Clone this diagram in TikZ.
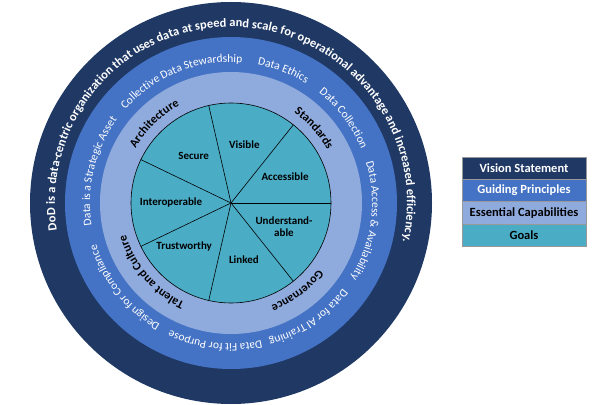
\documentclass[tikz,border=0pt]{standalone}
\usepackage{fontspec}
\setmainfont{Carlito}
\usetikzlibrary{positioning,decorations.text}

\definecolor{visionblue}{HTML}{1F3864}
\definecolor{principleblue}{HTML}{4472C4}
\definecolor{capabilityblue}{HTML}{8FAADC}
\definecolor{goalteal}{HTML}{4BACC6}

\newcommand{\visionfont}{\fontsize{12.5}{14}\selectfont\bfseries\color{white}}
\newcommand{\principlefont}{\fontsize{11.5}{13}\selectfont\color{white}}
\newcommand{\capabilityfont}{\fontsize{12}{14}\selectfont\bfseries\color{black}}

\begin{document}
\begin{tikzpicture}[thick,
    goal/.style={font=\fontsize{11}{12}\selectfont\bfseries,align=center,inner sep=1pt},
    legend box/.style={draw=gray!80,line width=0.6pt,minimum width=124pt,minimum height=22.3pt,
      inner sep=0pt,outer sep=0pt,font=\fontsize{12.5}{14}\selectfont\bfseries},
    ring text/.style={decorate,decoration={text along path,text align=center,text={#1}}}]

    \useasboundingbox (-231pt,-201pt) rectangle (379pt,203pt);

    \coordinate (c) at (0,0);
    \fill[visionblue] (c) circle[radius=201pt];
    \fill[principleblue] (c) circle[radius=166pt];
    \fill[capabilityblue] (c) circle[radius=131pt];
    \draw[fill=goalteal,line width=0.6pt] (c) circle[radius=100pt];

    \foreach \a in {0,51.43,102.86,154.29,205.71,257.14,308.57}
      \draw[line width=0.6pt] (c) -- (\a:100pt);

    \node[goal] (visible) at (77.14:60pt) {Visible};
    \node[goal] (accessible) at (25.71:60pt) {Accessible};
    \node[goal] (understandable) at (-24:58pt) {Understand-\\able};
    \node[goal] (linked) at (-77.14:58pt) {Linked};
    \node[goal] (trustworthy) at (-137:64pt) {Trustworthy};
    \node[goal] (interoperable) at (180:60pt) {Interoperable};
    \node[goal] (secure) at (128.57:60pt) {Secure};

    \path[ring text={|\visionfont|DoD is a data-centric organization that uses data at speed and scale for operational advantage and increased efficiency.}]
      (210:176pt) arc[start angle=210,end angle=-34,radius=176pt];

    \path[ring text={|\principlefont|Data is a Strategic Asset}] (201.5:141pt) arc[start angle=201.5,end angle=131.5,radius=141pt];
    \path[ring text={|\principlefont|Collective Data Stewardship}] (147:141pt) arc[start angle=147,end angle=77,radius=141pt];
    \path[ring text={|\principlefont|Data Ethics}] (103.5:141pt) arc[start angle=103.5,end angle=33.5,radius=141pt];
    \path[ring text={|\principlefont|Data Collection}] (72:141pt) arc[start angle=72,end angle=2,radius=141pt];
    \path[ring text={|\principlefont|Data Access {\&} Availability}] (27.5:141pt) arc[start angle=27.5,end angle=-42.5,radius=141pt];
    \path[ring text={|\principlefont|Data for AI Training}] (-21:141pt) arc[start angle=-21,end angle=-91,radius=141pt];
    \path[ring text={|\principlefont|Data Fit for Purpose}] (-61.5:141pt) arc[start angle=-61.5,end angle=-131.5,radius=141pt];
    \path[ring text={|\principlefont|Design for Compliance}] (-106.5:141pt) arc[start angle=-106.5,end angle=-176.5,radius=141pt];

    \path[ring text={|\capabilityfont|Architecture}] (174:110pt) arc[start angle=174,end angle=94,radius=110pt];
    \path[ring text={|\capabilityfont|Standards}] (82:110pt) arc[start angle=82,end angle=2,radius=110pt];
    \path[ring text={|\capabilityfont|Governance}] (-13:110pt) arc[start angle=-13,end angle=-93,radius=110pt];
    \path[ring text={|\capabilityfont|Talent and Culture}] (-99:110pt) arc[start angle=-99,end angle=-179,radius=110pt];

    \node[legend box,fill=visionblue,text=white,anchor=north west] (vision) at (231pt,46pt) {Vision Statement};
    \node[legend box,fill=principleblue,text=white,below=0pt of vision] (principles) {Guiding Principles};
    \node[legend box,fill=capabilityblue,below=0pt of principles] (capabilities) {Essential Capabilities};
    \node[legend box,fill=goalteal,below=0pt of capabilities] (goals) {Goals};
\end{tikzpicture}
\end{document}
